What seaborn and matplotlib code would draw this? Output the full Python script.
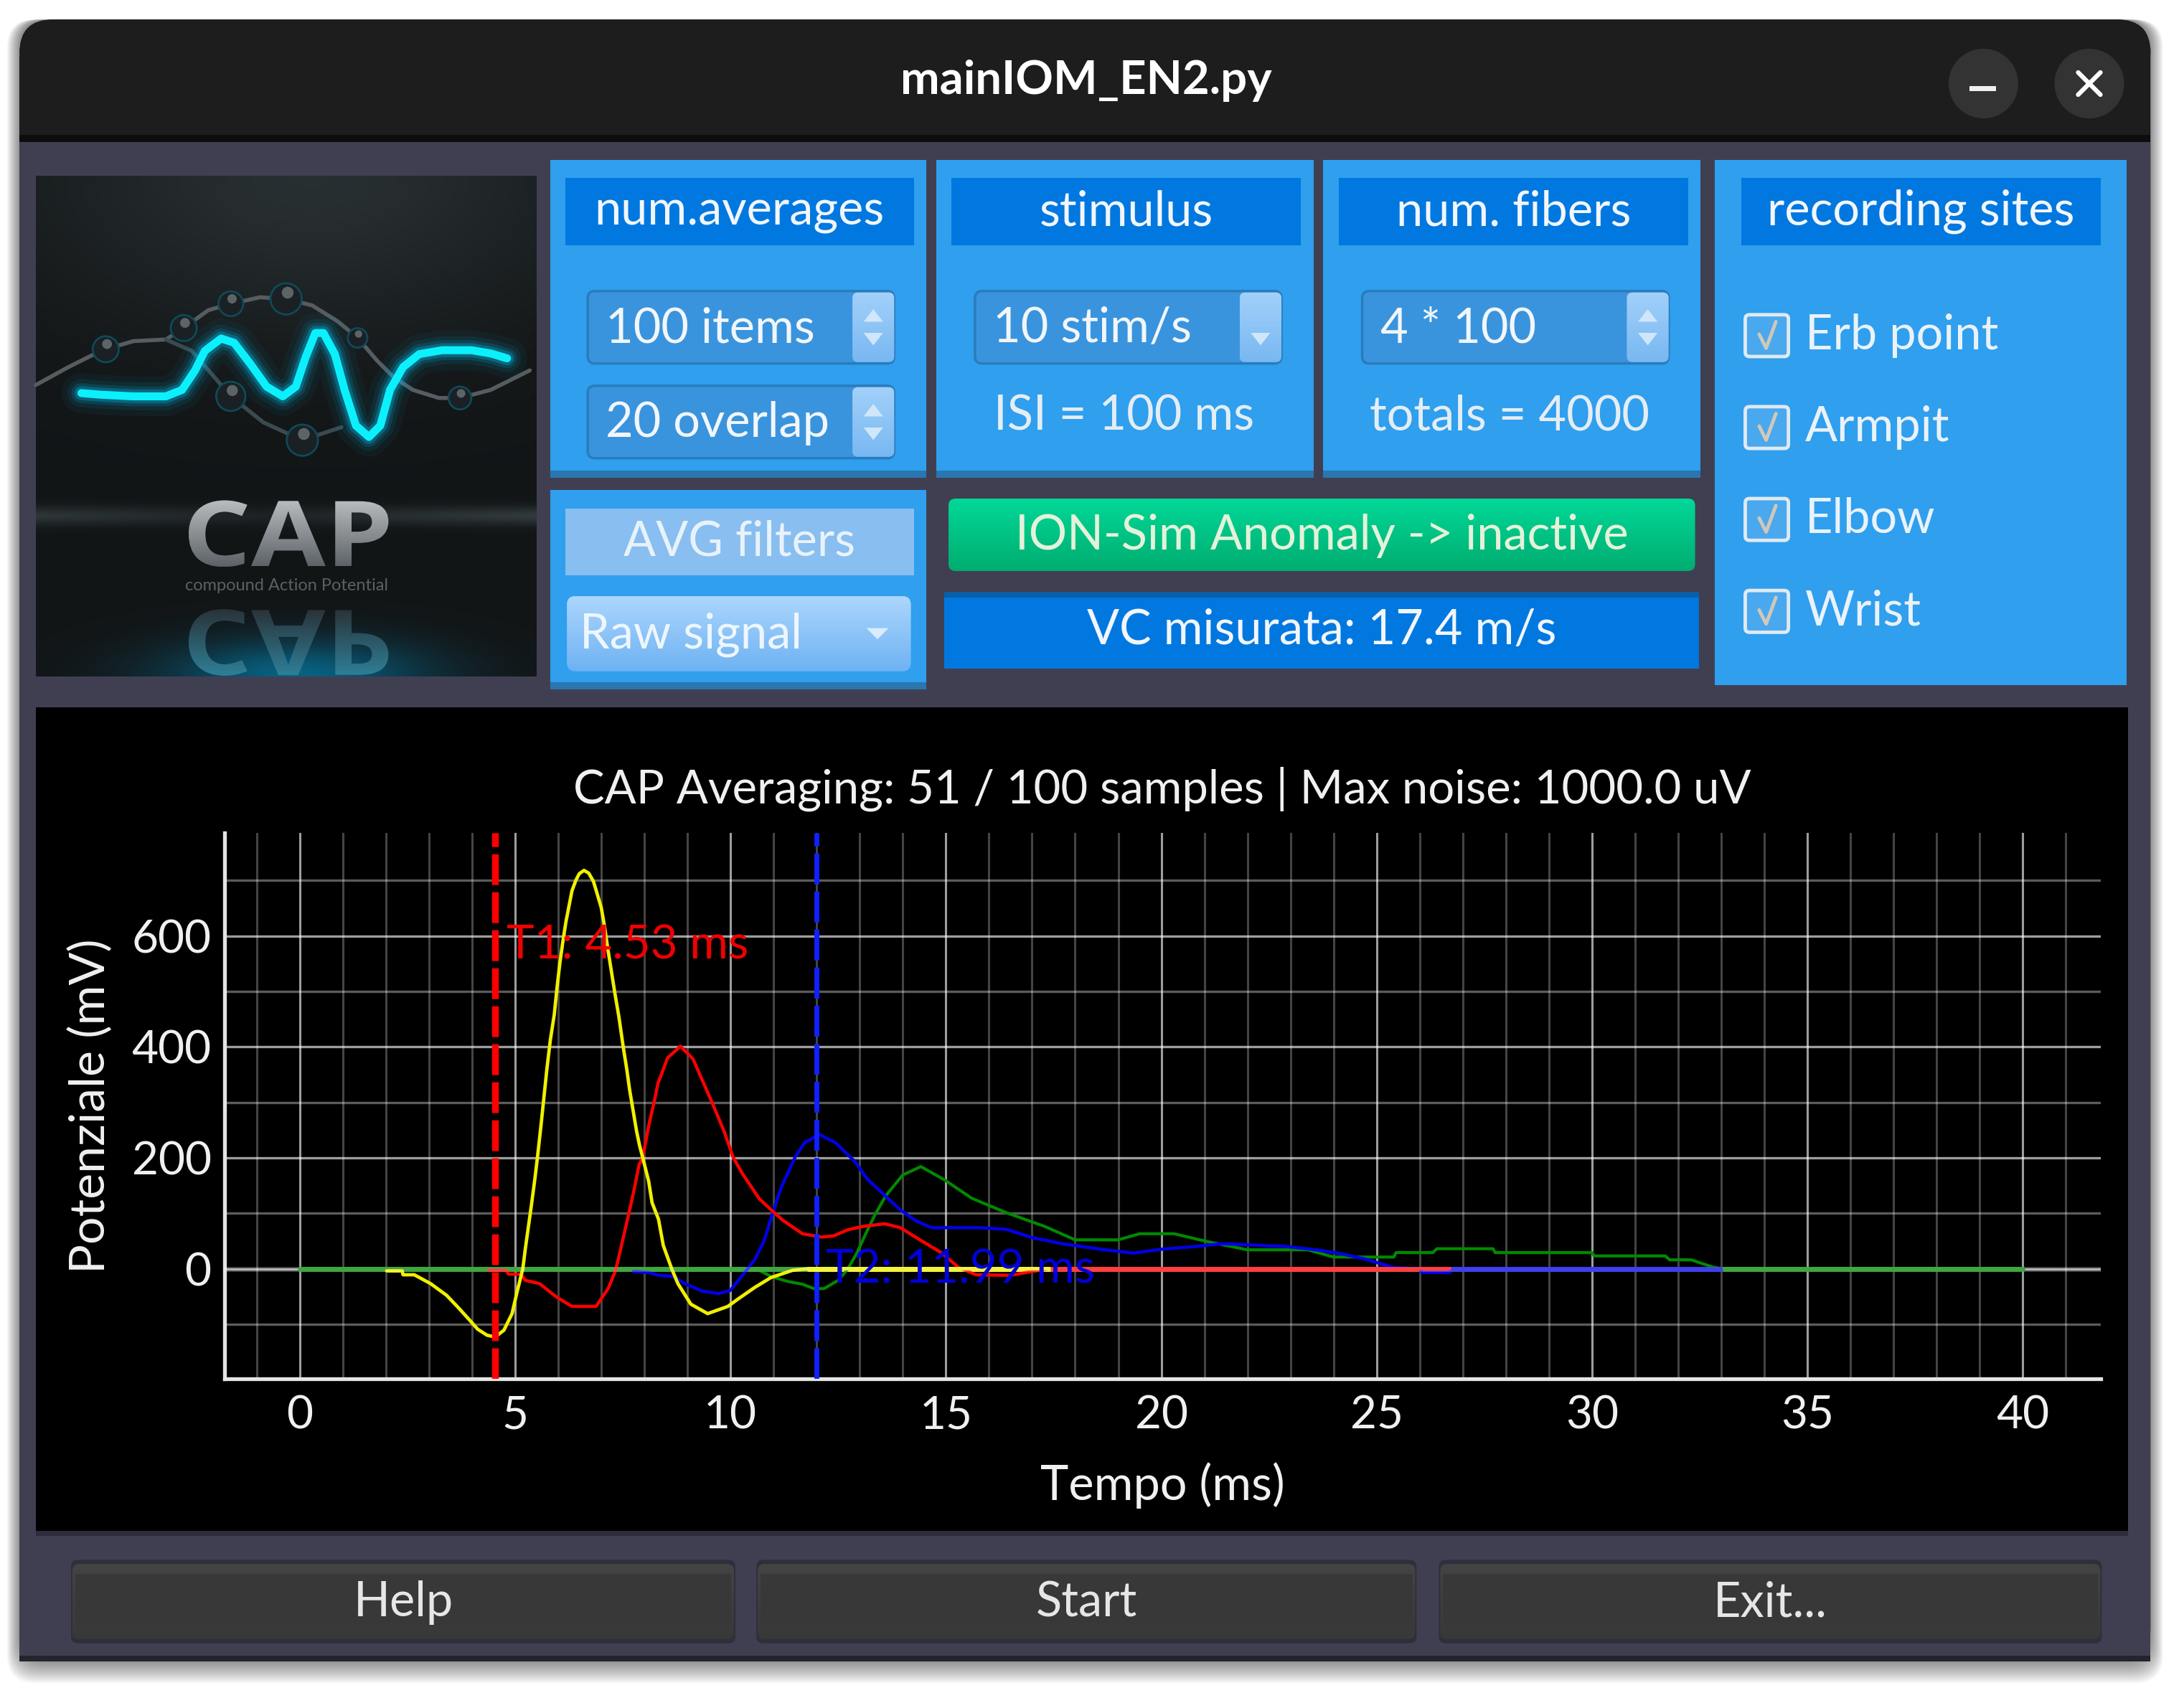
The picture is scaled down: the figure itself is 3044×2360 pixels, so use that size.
import numpy as np
import matplotlib
matplotlib.use("Agg")
import matplotlib.pyplot as plt
import seaborn as sns
from matplotlib.patches import FancyBboxPatch, Rectangle, Circle, Polygon, PathPatch
from matplotlib.textpath import TextPath
from matplotlib.font_manager import FontProperties
from matplotlib.transforms import Affine2D

# CAP traces (ms, mV)
erb_t = [2.02, 2.38, 2.4, 2.66, 3.04, 3.41, 3.68, 3.96, 4.13, 4.35, 4.54, 4.74, 4.93, 5.04, 5.18, 5.24, 5.31, 5.38,
         5.46, 5.52, 5.6, 5.67, 5.74, 5.82, 5.91, 5.97, 6.04, 6.11, 6.18, 6.25, 6.32, 6.41, 6.49, 6.6, 6.71, 6.82,
         6.92, 7.0, 7.07, 7.16, 7.24, 7.32, 7.41, 7.51, 7.59, 7.66, 7.74, 7.82, 7.89, 7.99, 8.1, 8.18, 8.33, 8.44,
         8.64, 8.78, 9.08, 9.47, 9.94, 10.17, 10.56, 10.94, 11.44, 11.81, 17.4]
erb_v = [-4, -4, -11, -11, -27, -48, -70, -94, -109, -120, -123, -111, -81, -44, 0, 37, 76, 115,
         162, 201, 257, 309, 361, 413, 458, 504, 551, 590, 625, 653, 681, 700, 712, 718, 713, 698,
         672, 651, 620, 573, 534, 495, 454, 400, 361, 322, 285, 248, 222, 192, 158, 119, 89, 42,
         -1, -27, -64, -81, -68, -55, -34, -16, -3, 0, 0]
armpit_t = [4.38, 4.79, 4.85, 5.13, 5.24, 5.57, 5.96, 6.32, 6.88, 7.16, 7.32, 7.38, 7.52, 7.66, 7.77, 7.88, 7.96, 8.1,
            8.24, 8.32, 8.43, 8.54, 8.84, 9.13, 9.35, 9.57, 9.85, 10.06, 10.28, 10.67, 10.97, 11.22, 11.67, 12.11,
            12.39, 12.72, 13.06, 13.58, 13.94, 14.44, 14.89, 15.3, 15.7, 16.5, 17, 17.4, 26.7]
armpit_v = [-3, -3, -10, -10, -21, -27, -51, -68, -68, -36, -6, 12, 59, 106, 145, 188, 199, 257,
            305, 335, 357, 380, 401, 378, 339, 300, 248, 201, 171, 126, 104, 87, 63, 57,
            59, 70, 76, 81, 74, 50, 29, 2, -11, -12, -5, 0, 0]
elbow_t = [7.75, 8.1, 8.33, 8.67, 8.94, 9.33, 9.72, 10, 10.39, 10.56, 10.78, 10.97, 11.17, 11.5, 11.72, 12.06, 12.44,
           12.89, 13.17, 13.61, 13.94, 14.33, 14.67, 15.8, 16.4, 17, 17.7, 18.6, 19.35, 20, 20.8, 21.4, 22.9, 23.6,
           24.1, 24.7, 25.4, 26, 26.05, 26.7, 26.75, 33]
elbow_v = [-5, -7, -12, -14, -27, -40, -45, -39, -1, 16, 50, 98, 145, 201, 227, 242, 227,
           193, 162, 130, 106, 85, 74, 74, 71, 56, 45, 35, 28, 35, 40, 45, 40, 34,
           28, 18, 2, 0, -7, -7, 0, 0]
wrist_t = [0, 10.28, 10.67, 10.94, 11.33, 11.67, 11.94, 12.17, 12.5, 12.72, 12.94, 13.17, 13.36, 13.61, 14, 14.42,
           14.97, 15.6, 16.4, 17.3, 18, 19, 19.5, 20.3, 21, 22, 23.4, 24, 25.4, 25.45, 26.3, 26.4, 27.7, 27.75,
           30, 30.05, 31.7, 31.8, 32.3, 32.8, 33, 40]
wrist_v = [0, -3, -3, -14, -23, -28, -36, -36, -21, -1, 29, 68, 98, 132, 169, 184,
           160, 127, 101, 76, 52, 52, 63, 63, 50, 34, 34, 21, 21, 29, 29, 36, 36, 29,
           29, 23, 23, 16, 16, 3, 0, 0]

# stretches where a trace sits on the baseline and is the one on top
wrist_flat = [0, 40]
elbow_flat = [26.75, 33]
armpit_flat = [17.4, 26.7]
erb_flat = [11.81, 17.4]

t1_ms = 4.53
t2_ms = 11.99
x_ticks = [0, 5, 10, 15, 20, 25, 30, 35, 40]
x_minor = [-1, 1, 2, 3, 4, 6, 7, 8, 9, 11, 12, 13, 14, 16, 17, 18, 19, 21, 22, 23, 24, 26, 27, 28, 29, 31, 32, 33, 34,
           36, 37, 38, 39, 41]
y_ticks = [0, 200, 400, 600]
y_minor = [-100, 100, 300, 500, 700]

title_txt = "CAP Averaging: 51 / 100 samples | Max noise: 1000.0 uV"
sites = ["Erb point", "Armpit", "Elbow", "Wrist"]
bottom_buttons = ["Help", "Start", "Exit..."]

# logo, points as read on a crop of the picture
wave_x = [140, 200, 300, 400, 450, 490, 520, 570, 610, 660, 710, 760, 800, 830, 860, 885, 920, 950, 985, 1025, 1060,
          1090, 1130, 1180, 1250, 1340, 1400, 1450]
wave_y = [680, 685, 690, 690, 670, 610, 550, 512, 525, 590, 660, 690, 660, 570, 495, 495, 560, 670, 780, 815, 780,
          670, 600, 560, 548, 548, 558, 573]
bead_x = [215, 455, 600, 770, 990, 600, 820, 1305]
bead_y = [545, 480, 405, 390, 510, 690, 825, 695]
bead_r = [40, 40, 38, 48, 30, 45, 48, 35]
strand_x = [0, 100, 170, 215, 300, 400, 455, 530, 600, 690, 770, 850, 930, 990, 1050, 1100, 1160, 1240, 1305, 1400, 1520]
strand_y = [655, 600, 565, 545, 520, 515, 480, 425, 405, 385, 390, 410, 460, 510, 580, 630, 670, 695, 695, 670, 610]
strand2_x = [400, 480, 600, 700, 820, 940]
strand2_y = [515, 550, 690, 770, 825, 785]

S = 3044 / 1568

sns.set_theme(style="dark")
plt.rcParams["font.family"] = ["Lato", "DejaVu Sans"]

fig = plt.figure(figsize=(30.44, 23.6), dpi=100, facecolor="white")
ui = fig.add_axes([0, 0, 1, 1])
ui.set_axis_off()


def rect(x0, y0, x1, y1, color, z=1, round_px=0, ec="none", lw=0, alpha=None):
    if round_px:
        p = FancyBboxPatch((x0 * S, y0 * S), (x1 - x0) * S, (y1 - y0) * S,
                           boxstyle=f"round,pad=0,rounding_size={round_px * S}",
                           fc=color, ec=ec, lw=lw, zorder=z, alpha=alpha)
    else:
        p = Rectangle((x0 * S, y0 * S), (x1 - x0) * S, (y1 - y0) * S, fc=color, ec=ec, lw=lw, zorder=z, alpha=alpha)
    ui.add_patch(p)
    return p


def grad(x0, y0, x1, y1, top, bottom, z=2, round_px=0, clip=None):
    c0 = np.array(matplotlib.colors.to_rgb(top))
    c1 = np.array(matplotlib.colors.to_rgb(bottom))
    f = np.linspace(0, 1, 64)[:, None, None]
    img = c0[None, None, :] * (1 - f) + c1[None, None, :] * f
    im = ui.imshow(img, extent=(x0 * S, x1 * S, y1 * S, y0 * S), aspect="auto", zorder=z, interpolation="bilinear")
    if round_px:
        clip = FancyBboxPatch((x0 * S, y0 * S), (x1 - x0) * S, (y1 - y0) * S,
                              boxstyle=f"round,pad=0,rounding_size={round_px * S}", fc="none", ec="none",
                              transform=ui.transData)
        ui.add_patch(clip)
    if clip is not None:
        im.set_clip_path(clip)
    return im


def label(x, y, s, size=48, color="#f2f6fa", ha="center", z=6, **kw):
    ui.text(x * S, y * S, s, fontsize=size, color=color, ha=ha, va="center", zorder=z, **kw)


def word_path(s, x0, y0, x1, y1, flip=False):
    # text outline fitted into a box, in figure pixels
    tp = TextPath((0, 0), s, prop=FontProperties(family="Open Sans", weight="bold"), size=100)
    ext = tp.get_extents()
    tr = Affine2D().translate(-ext.x0, -ext.y0).scale((x1 - x0) / ext.width, (y1 - y0) / ext.height)
    if flip:
        tr = tr.translate(x0, y0)
    else:
        tr = tr.scale(1, -1).translate(x0, y1)
    return tr.transform_path(tp)


def lx(v):
    return 50 + np.array(v) / 2.208


def ly(v):
    return 240 + np.array(v) / 2.208


# shadow, window, title bar
for i in range(12):
    rect(14 - i * 0.8, 14, 1544 + i * 0.8, 1193 + i * 1.4, "black", z=0.2, round_px=20, alpha=0.045)
rect(14, 14, 1544, 1193, "#403f52", z=0.5, round_px=24)
rect(14, 100, 1544, 1193, "#403f52", z=0.6)
rect(14, 14, 1544, 60, "#1d1d1d", z=0.7, round_px=24)
rect(14, 40, 1544, 98, "#1d1d1d", z=0.7)
rect(14, 97, 1544, 102, "#0d0d0d", z=0.8)
rect(14, 1189, 1544, 1193, "#24242f", z=0.8)
label(780, 58, "mainIOM_EN2.py", size=47, color="white", fontweight="bold")
for cx in (1424, 1500):
    ui.add_patch(Circle((cx * S, 60 * S), 25 * S, fc="#333333", ec="none", zorder=2))
rect(1414, 62, 1433, 65.5, "#f0f0f0", z=3)
ui.plot([1492 * S, 1508 * S], [52 * S, 68 * S], color="white", lw=4.5, zorder=3, solid_capstyle="round")
ui.plot([1492 * S, 1508 * S], [68 * S, 52 * S], color="white", lw=4.5, zorder=3, solid_capstyle="round")

# logo
yy, xx = np.mgrid[0:1:200j, 0:1:200j]
shade = 0.075 + 0.09 * np.exp(-((xx - 0.55) / 0.55) ** 2 - (yy / 0.3) ** 2)
shade = shade + 0.12 * np.exp(-((yy - 0.68) / 0.018) ** 2) * (0.35 + 0.65 * np.abs(xx - 0.45) * 2)
bg = np.dstack([shade * 0.95, shade * 1.12, shade * 1.18]).clip(0, 1)
glow = np.exp(-((xx - 0.52) / 0.26) ** 2 - ((yy - 1.0) / 0.07) ** 2)[:, :, None] * 0.55
bg = bg * (1 - glow) + np.array([0.0, 0.62, 0.85]) * glow
ui.imshow(bg, extent=(26 * S, 385.5 * S, 485.5 * S, 126 * S), aspect="auto", zorder=1.5, interpolation="bilinear")

logo_clip = Rectangle((26 * S, 126 * S), 359.5 * S, 359.5 * S, fc="none", ec="none", transform=ui.transData)
ui.add_patch(logo_clip)
ui.plot(lx(strand_x), ly(strand_y), color="#565c60", lw=4, zorder=1.8)
ui.plot(lx(strand2_x), ly(strand2_y), color="#3a4a50", lw=4, zorder=1.8)
for lw, a in ((40, 0.05), (28, 0.09), (20, 0.16), (14, 0.30)):
    ui.plot(lx(wave_x), ly(wave_y), color="#00b8e8", lw=lw, alpha=a, zorder=1.9, solid_capstyle="round", solid_joinstyle="round")
ui.plot(lx(wave_x), ly(wave_y), color="#0cf0fb", lw=8, zorder=2, solid_capstyle="round", solid_joinstyle="round")
for bx, by, br in zip(bead_x, bead_y, bead_r):
    cx, cy, cr = lx(bx), ly(by), br / 2.208
    ui.add_patch(Circle((cx, cy), cr, fc="#1a2024", ec="#0e4a58", lw=2, zorder=2.1))
    ui.add_patch(Circle((cx + cr * 0.1, cy - cr * 0.4), cr * 0.38, fc="#5c6468", ec="none", zorder=2.2))

cap_path = word_path("CAP", lx(470), ly(1010), lx(1085), ly(1215))
cap_clip = PathPatch(cap_path, fc="none", ec="none", transform=ui.transData)
ui.add_patch(cap_clip)
grad(lx(470) / S, ly(1010) / S, lx(1085) / S, ly(1215) / S, "#b8bcbe", "#5c6266", z=2.3, clip=cap_clip)
refl_path = word_path("CAP", lx(470), ly(1345), lx(1085), ly(1550), flip=True)
refl_clip = PathPatch(refl_path, fc="none", ec="none", transform=ui.transData)
ui.add_patch(refl_clip)
grad(lx(470) / S, ly(1345) / S, lx(1085) / S, ly(1550) / S, "#2a3338", "#2f7f98", z=2.3, clip=refl_clip)
ui.text(lx(772), ly(1272), "compound Action Potential", fontsize=17, color="#5a6064", ha="center", va="center", zorder=2.4)

# group boxes
BLUE = "#2f9fee"
HEAD = "#0078e0"
for x0, x1, y1 in ((395, 665, 342), (672, 943, 342), (950, 1221, 342)):
    rect(x0, 115, x1, y1, BLUE, z=1)
    rect(x0, y1 - 4, x1, y1 + 1, "#2a76b0", z=1.1)
rect(395, 352, 665, 494, BLUE, z=1)
rect(395, 490, 665, 495, "#2a76b0", z=1.1)
rect(1231, 115, 1527, 492, BLUE, z=1)
for x0, x1, s in ((406, 656, "num.averages"), (683, 934, "stimulus"), (961, 1212, "num. fibers"), (1250, 1508, "recording sites")):
    rect(x0, 128, x1, 176, HEAD, z=2)
    label((x0 + x1) / 2, 152, s)


def spinbox(x0, y0, s, up=True):
    rect(x0, y0, x0 + 220, y0 + 52, "#3a94dd", z=2, round_px=5, ec="#2a7cbc", lw=2.5)
    grad(x0 + 190, y0 + 1, x0 + 220, y0 + 51, "#a2d0fa", "#78b8f2", z=3, round_px=4)
    label(x0 + 13, y0 + 27, s, ha="left")
    mid = x0 + 205
    if up:
        ui.add_patch(Polygon([[(mid - 7) * S, (y0 + 22) * S], [(mid + 7) * S, (y0 + 22) * S], [mid * S, (y0 + 13) * S]], fc="#cfe6fb", ec="none", zorder=4))
    ui.add_patch(Polygon([[(mid - 7) * S, (y0 + 30) * S], [(mid + 7) * S, (y0 + 30) * S], [mid * S, (y0 + 39) * S]], fc="#cfe6fb", ec="none", zorder=4))


spinbox(422, 209, "100 items")
spinbox(422, 277, "20 overlap")
spinbox(700, 209, "10 stim/s", up=False)
spinbox(978, 209, "4 * 100")
label(807, 299, "ISI = 100 ms", color="#e4edf4")
label(1084, 299, "totals = 4000", color="#e4edf4")

# filters, status rows
rect(406, 365, 656, 413, "#88bef0", z=2)
label(531, 389, "AVG filters", color="#e8f2fb")
grad(407, 428, 654, 482, "#acd6fd", "#6eb2f3", z=2, round_px=6)
label(416, 456, "Raw signal", ha="left", color="#eef6fd")
ui.add_patch(Polygon([[622 * S, 451 * S], [638 * S, 451 * S], [630 * S, 459 * S]], fc="#d8ecfc", ec="none", zorder=4))
grad(681, 358, 1217, 410, "#00d898", "#00ad70", z=2, round_px=5)
label(949, 385, "ION-Sim Anomaly -> inactive", color="#e4f2da")
rect(678, 425, 1220, 480, "#0078e0", z=2)
rect(678, 425, 1220, 429, "#0a5ea8", z=2.1)
label(949, 453, "VC misurata: 17.4 m/s")

# recording site checks
for s, cy in zip(sites, (241, 307, 373, 439)):
    rect(1253, cy - 15, 1284, cy + 15, "#4aa8ee", z=2, round_px=3, ec="#dfeaf2", lw=3.5)
    ui.plot([1263 * S, 1268 * S, 1275 * S], [(cy - 1) * S, (cy + 9) * S, (cy - 10) * S], color="#d0c8b8", lw=3.5, zorder=3)
    label(1296, cy, s, ha="left", color="#eaf2f9")

# bottom buttons
for s, x0, x1 in zip(bottom_buttons, (52, 544, 1034), (527, 1016, 1508)):
    rect(x0 - 1, 1120, x1 + 1, 1180, "#2f2f3c", z=1, round_px=5)
    grad(x0, 1123, x1, 1177, "#444444", "#383838", z=2, round_px=5)
    rect(x0 + 2, 1130, x1 - 2, 1168, "#383838", z=2.1)
    label((x0 + x1) / 2, 1151, s, color="#e6e6e6")

# scope panel
rect(26, 508, 1528, 1101, "black", z=1)
rect(26, 1099, 1528, 1103, "#2c2c3c", z=1.1)
ui.set_xlim(0, 3044)
ui.set_ylim(2360, 0)

ax = fig.add_axes([312.6 / 3044, 1 - 1922 / 2360, (2927.5 - 312.6) / 3044, (1922 - 1161) / 2360], zorder=5)
ax.set_facecolor("black")
ax.patch.set_alpha(0)

GREEN, NAVY, RED, YEL = "#008a00", "#0000e6", "#ff0000", "#f0f000"
sns.lineplot(x=wrist_flat, y=[0, 0], color=GREEN, lw=5, ax=ax, estimator=None, zorder=2.9)
sns.lineplot(x=elbow_flat, y=[0, 0], color=NAVY, lw=5, ax=ax, estimator=None, zorder=2.91)
sns.lineplot(x=armpit_flat, y=[0, 0], color=RED, lw=5, ax=ax, estimator=None, zorder=2.92)
sns.lineplot(x=erb_flat, y=[0, 0], color=YEL, lw=5, ax=ax, estimator=None, zorder=2.93)
sns.lineplot(x=wrist_t, y=wrist_v, color=GREEN, lw=3, ax=ax, estimator=None, sort=False, zorder=3)
sns.lineplot(x=elbow_t, y=elbow_v, color=NAVY, lw=3.2, ax=ax, estimator=None, sort=False, zorder=3.1)
sns.lineplot(x=armpit_t, y=armpit_v, color=RED, lw=3.2, ax=ax, estimator=None, sort=False, zorder=3.2)
sns.lineplot(x=erb_t, y=erb_v, color=YEL, lw=3.4, ax=ax, estimator=None, sort=False, zorder=3.3)

ax.set_xlim(-1.75, 41.8)
ax.set_ylim(-198.5, 785.6)
ax.set_xticks(x_ticks)
ax.set_yticks(y_ticks)
ax.set_xticks(x_minor, minor=True)
ax.set_yticks(y_minor, minor=True)
ax.set_axisbelow(True)
ax.grid(True, which="major", axis="x", color="white", alpha=0.62, lw=2.2)
ax.grid(True, which="minor", axis="x", color="white", alpha=0.27, lw=2.2)
ax.grid(True, which="major", axis="y", color="white", alpha=0.62, lw=2.4)
ax.grid(True, which="minor", axis="y", color="white", alpha=0.36, lw=2.4)
ax.axhline(0, color="white", alpha=0.25, lw=5, zorder=4)
ax.tick_params(axis="both", which="both", length=0, colors="#f0f0f0", labelsize=46)
ax.tick_params(axis="x", pad=16)
ax.tick_params(axis="y", pad=13)
for side in ("top", "right"):
    ax.spines[side].set_visible(False)
for side in ("left", "bottom"):
    ax.spines[side].set_color("#e4e4e4")
    ax.spines[side].set_linewidth(3.8)

ax.axvline(t1_ms, color="#ff0000", lw=6.8, ls=(0, (4.55, 1.06)), zorder=4.2)
ax.axvline(t2_ms, color="#1020ff", lw=5, ls=(0, (6.2, 1.44)), zorder=4.2)
ax.text(t1_ms + 0.28, 583, "T1: 4.53 ms", color="#f00000", fontsize=47, va="center", zorder=4.3)
ax.text(t2_ms + 0.22, -2, "T2: 11.99 ms", color="#0000d8", fontsize=47, va="center", zorder=4.3)

ax.set_title(title_txt, color="#f0f0f0", fontsize=47, pad=30, x=0.5)
ax.set_xlabel("Tempo (ms)", color="#f0f0f0", fontsize=48, labelpad=26)
ax.set_ylabel("Potenziale (mV)", color="#f0f0f0", fontsize=49, labelpad=18)

fig.savefig("out.png", dpi=100, facecolor="white")
